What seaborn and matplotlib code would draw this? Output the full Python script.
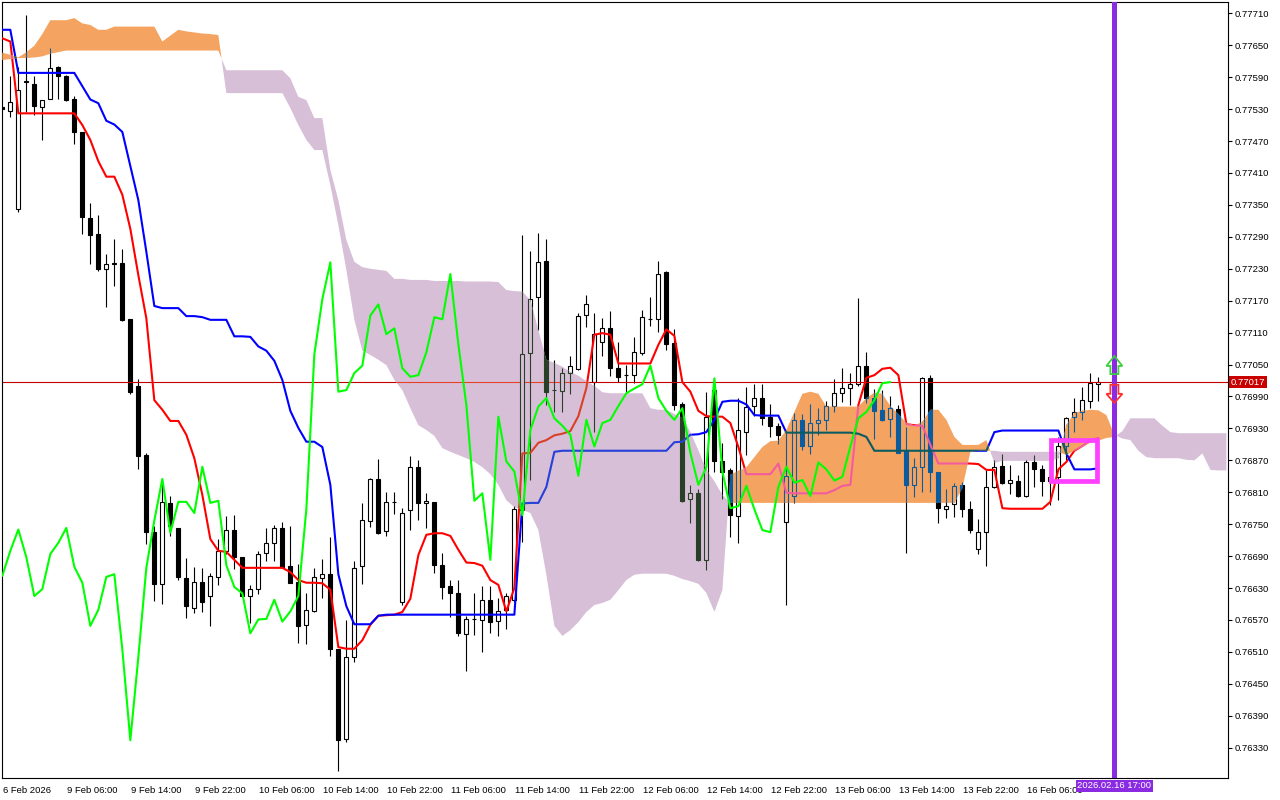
import numpy as np
import matplotlib
matplotlib.use("Agg")
import matplotlib.pyplot as plt
import matplotlib.transforms as mtrans
from matplotlib import colors as mcolors
from matplotlib.path import Path
from matplotlib.patches import Rectangle, Polygon
import seaborn as sns

sns.set_style("white")
plt.rcParams['font.family'] = ['Liberation Sans', 'DejaVu Sans']

# H1 candles, 6 Feb 22:00 .. 16 Feb 15:00
open_ = [0.77534, 0.77526, 0.77342, 0.77581, 0.77578, 0.77534, 0.77548, 0.77610, 0.77592, 0.77549,
         0.77486, 0.77325, 0.77296, 0.77229, 0.77240, 0.77240, 0.77136, 0.77010, 0.76880, 0.76736,
         0.76638, 0.76790, 0.76742, 0.76649, 0.76593, 0.76641, 0.76615, 0.76651, 0.76700, 0.76740,
         0.76689, 0.76615, 0.76628, 0.76695, 0.76715, 0.76743, 0.76671, 0.76642, 0.76561, 0.76587,
         0.76648, 0.76657, 0.76516, 0.76346, 0.76500, 0.76672, 0.76756, 0.76835, 0.76737, 0.76791,
         0.76604, 0.76777, 0.76857, 0.76789, 0.76791, 0.76673, 0.76634, 0.76621, 0.76543, 0.76571,
         0.76570, 0.76608, 0.76569, 0.76588, 0.76608, 0.76777, 0.77072, 0.77176, 0.77245, 0.77003,
         0.77001, 0.77034, 0.77042, 0.77143, 0.77017, 0.77093, 0.77118, 0.77044, 0.77031, 0.77030,
         0.77072, 0.77136, 0.77135, 0.77223, 0.77090, 0.76976, 0.76797, 0.76809, 0.76683, 0.77002,
         0.76869, 0.76851, 0.76766, 0.76924, 0.76973, 0.76987, 0.76951, 0.76935, 0.76754, 0.76803,
         0.76946, 0.76897, 0.76940, 0.76946, 0.76972, 0.76996, 0.77005, 0.77013, 0.77048, 0.76987,
         0.76965, 0.76947, 0.76966, 0.76888, 0.76824, 0.76857, 0.77024, 0.76849, 0.76778, 0.76788,
         0.76824, 0.76778, 0.76703, 0.76735, 0.76820, 0.76859, 0.76827, 0.76832, 0.76803, 0.76866,
         0.76853, 0.76832, 0.76839, 0.76896, 0.76952, 0.76960, 0.76982, 0.77013]
high = [0.77536, 0.77592, 0.77609, 0.77707, 0.77592, 0.77547, 0.77644, 0.77611, 0.77594, 0.77555,
        0.77486, 0.77354, 0.77331, 0.77258, 0.77286, 0.77267, 0.77136, 0.77022, 0.76884, 0.76746,
        0.76834, 0.76803, 0.76743, 0.76687, 0.76670, 0.76668, 0.76659, 0.76722, 0.76765, 0.76767,
        0.76689, 0.76636, 0.76700, 0.76743, 0.76748, 0.76754, 0.76746, 0.76675, 0.76621, 0.76668,
        0.76685, 0.76726, 0.76516, 0.76570, 0.76681, 0.76790, 0.76837, 0.76873, 0.76811, 0.76811,
        0.76780, 0.76878, 0.76871, 0.76809, 0.76791, 0.76695, 0.76645, 0.76646, 0.76578, 0.76620,
        0.76634, 0.76634, 0.76611, 0.76621, 0.76784, 0.77293, 0.77263, 0.77297, 0.77286, 0.77059,
        0.77044, 0.77066, 0.77146, 0.77181, 0.77146, 0.77137, 0.77151, 0.77093, 0.77049, 0.77101,
        0.77152, 0.77177, 0.77245, 0.77226, 0.77116, 0.76980, 0.76824, 0.76816, 0.76998, 0.77024,
        0.76902, 0.76856, 0.76987, 0.77007, 0.77013, 0.77013, 0.76976, 0.76940, 0.76921, 0.76959,
        0.76957, 0.76976, 0.76968, 0.76982, 0.77022, 0.77043, 0.77035, 0.77175, 0.77074, 0.77004,
        0.77002, 0.76990, 0.76974, 0.76933, 0.76874, 0.77027, 0.77030, 0.76849, 0.76816, 0.76827,
        0.76829, 0.76794, 0.76759, 0.76851, 0.76871, 0.76882, 0.76861, 0.76842, 0.76871, 0.76880,
        0.76861, 0.76848, 0.76914, 0.76952, 0.76987, 0.77008, 0.77034, 0.77027]
low = [0.77528, 0.77516, 0.77337, 0.77525, 0.77519, 0.77472, 0.77548, 0.77549, 0.77545, 0.77464,
       0.77295, 0.77239, 0.77226, 0.77158, 0.77197, 0.77131, 0.76995, 0.76854, 0.76713, 0.76606,
       0.76600, 0.76727, 0.76645, 0.76574, 0.76583, 0.76585, 0.76559, 0.76635, 0.76694, 0.76666,
       0.76613, 0.76564, 0.76618, 0.76681, 0.76680, 0.76668, 0.76639, 0.76526, 0.76524, 0.76585,
       0.76611, 0.76503, 0.76286, 0.76340, 0.76492, 0.76637, 0.76745, 0.76732, 0.76727, 0.76770,
       0.76599, 0.76740, 0.76758, 0.76742, 0.76659, 0.76609, 0.76576, 0.76539, 0.76475, 0.76542,
       0.76510, 0.76546, 0.76540, 0.76554, 0.76604, 0.76717, 0.76833, 0.77115, 0.76974, 0.76960,
       0.76961, 0.76995, 0.77040, 0.77121, 0.76923, 0.77066, 0.77028, 0.77018, 0.76999, 0.77015,
       0.77068, 0.77122, 0.77112, 0.77077, 0.76965, 0.76792, 0.76752, 0.76680, 0.76663, 0.76849,
       0.76797, 0.76725, 0.76714, 0.76880, 0.76953, 0.76936, 0.76914, 0.76900, 0.76598, 0.76790,
       0.76889, 0.76882, 0.76918, 0.76927, 0.76961, 0.76980, 0.76974, 0.77010, 0.76977, 0.76911,
       0.76944, 0.76914, 0.76883, 0.76695, 0.76802, 0.76811, 0.76811, 0.76753, 0.76761, 0.76764,
       0.76764, 0.76734, 0.76694, 0.76672, 0.76818, 0.76826, 0.76807, 0.76801, 0.76801, 0.76820,
       0.76803, 0.76786, 0.76795, 0.76871, 0.76924, 0.76946, 0.76968, 0.76982]
close = [0.77530, 0.77543, 0.77566, 0.77582, 0.77536, 0.77547, 0.77608, 0.77593, 0.77547, 0.77486,
         0.77328, 0.77293, 0.77229, 0.77238, 0.77239, 0.77134, 0.76999, 0.76879, 0.76736, 0.76638,
         0.76792, 0.76746, 0.76650, 0.76596, 0.76641, 0.76604, 0.76653, 0.76700, 0.76740, 0.76688,
         0.76615, 0.76628, 0.76694, 0.76715, 0.76743, 0.76670, 0.76640, 0.76559, 0.76589, 0.76651,
         0.76656, 0.76515, 0.76344, 0.76500, 0.76668, 0.76757, 0.76835, 0.76734, 0.76792, 0.76792,
         0.76771, 0.76858, 0.76790, 0.76794, 0.76673, 0.76632, 0.76620, 0.76545, 0.76571, 0.76572,
         0.76608, 0.76567, 0.76586, 0.76615, 0.76778, 0.77069, 0.77173, 0.77242, 0.76999, 0.77002,
         0.77034, 0.77048, 0.77142, 0.77163, 0.77107, 0.77118, 0.77043, 0.77027, 0.77030, 0.77073,
         0.77139, 0.77135, 0.77220, 0.77088, 0.76974, 0.76794, 0.76808, 0.76683, 0.76952, 0.76868,
         0.76849, 0.76767, 0.76927, 0.76971, 0.76987, 0.76949, 0.76935, 0.76918, 0.76841, 0.76946,
         0.76896, 0.76940, 0.76946, 0.76972, 0.76996, 0.77005, 0.77013, 0.77048, 0.76987, 0.76963,
         0.76946, 0.76968, 0.76884, 0.76824, 0.76857, 0.77024, 0.76849, 0.76780, 0.76784, 0.76822,
         0.76778, 0.76739, 0.76735, 0.76820, 0.76858, 0.76828, 0.76833, 0.76803, 0.76866, 0.76853,
         0.76832, 0.76839, 0.76896, 0.76949, 0.76961, 0.76983, 0.77015, 0.77017]

# Ichimoku lines
tenkan = [0.77663, 0.77657, 0.77522, 0.77522, 0.77522, 0.77522, 0.77522, 0.77522, 0.77522, 0.77522,
          0.77500, 0.77472, 0.77432, 0.77403, 0.77403, 0.77369, 0.77305, 0.77218, 0.77137, 0.76983,
          0.76965, 0.76944, 0.76944, 0.76918, 0.76874, 0.76805, 0.76722, 0.76700, 0.76698, 0.76683,
          0.76668, 0.76668, 0.76668, 0.76668, 0.76668, 0.76668, 0.76660, 0.76645, 0.76640, 0.76640,
          0.76639, 0.76627, 0.76519, 0.76516, 0.76516, 0.76532, 0.76561, 0.76578, 0.76579, 0.76580,
          0.76585, 0.76610, 0.76692, 0.76730, 0.76733, 0.76733, 0.76728, 0.76702, 0.76678, 0.76677,
          0.76672, 0.76645, 0.76636, 0.76586, 0.76630, 0.76883, 0.76884, 0.76903, 0.76908, 0.76917,
          0.76920, 0.76925, 0.76953, 0.77006, 0.77106, 0.77109, 0.77106, 0.77052, 0.77052, 0.77052,
          0.77052, 0.77052, 0.77087, 0.77116, 0.77104, 0.77017, 0.76999, 0.76963, 0.76953, 0.76952,
          0.76952, 0.76940, 0.76895, 0.76844, 0.76844, 0.76844, 0.76844, 0.76864, 0.76809, 0.76808,
          0.76808, 0.76808, 0.76808, 0.76808, 0.76814, 0.76822, 0.76824, 0.76974, 0.77025, 0.77030,
          0.77042, 0.77044, 0.77030, 0.76938, 0.76936, 0.76935, 0.76899, 0.76864, 0.76864, 0.76864,
          0.76864, 0.76864, 0.76863, 0.76852, 0.76852, 0.76780, 0.76779, 0.76779, 0.76779, 0.76779,
          0.76779, 0.76792, 0.76853, 0.76867, 0.76888, 0.76897, 0.76908, 0.76912]
kijun = [0.77679, 0.77679, 0.77598, 0.77598, 0.77598, 0.77598, 0.77598, 0.77598, 0.77598, 0.77598,
         0.77573, 0.77548, 0.77541, 0.77508, 0.77501, 0.77487, 0.77423, 0.77359, 0.77262, 0.77160,
         0.77156, 0.77156, 0.77156, 0.77141, 0.77141, 0.77139, 0.77134, 0.77134, 0.77134, 0.77103,
         0.77103, 0.77102, 0.77084, 0.77076, 0.77057, 0.77021, 0.76963, 0.76931, 0.76905, 0.76905,
         0.76895, 0.76824, 0.76656, 0.76596, 0.76562, 0.76562, 0.76562, 0.76578, 0.76580, 0.76580,
         0.76580, 0.76580, 0.76580, 0.76580, 0.76580, 0.76580, 0.76580, 0.76580, 0.76580, 0.76580,
         0.76580, 0.76580, 0.76580, 0.76580, 0.76580, 0.76789, 0.76790, 0.76790, 0.76820, 0.76886,
         0.76888, 0.76888, 0.76888, 0.76888, 0.76888, 0.76888, 0.76888, 0.76888, 0.76888, 0.76888,
         0.76888, 0.76888, 0.76888, 0.76888, 0.76904, 0.76905, 0.76918, 0.76919, 0.76923, 0.76946,
         0.76980, 0.76982, 0.76982, 0.76975, 0.76955, 0.76954, 0.76954, 0.76954, 0.76922, 0.76922,
         0.76922, 0.76922, 0.76922, 0.76922, 0.76922, 0.76922, 0.76922, 0.76920, 0.76914, 0.76888,
         0.76888, 0.76888, 0.76888, 0.76888, 0.76888, 0.76888, 0.76888, 0.76888, 0.76888, 0.76888,
         0.76888, 0.76888, 0.76888, 0.76888, 0.76923, 0.76926, 0.76926, 0.76926, 0.76926, 0.76926,
         0.76926, 0.76926, 0.76926, 0.76883, 0.76853, 0.76853, 0.76853, 0.76855]
# cloud spans, 16 bars projected past the last candle
span_a = [0.77636, 0.77632, 0.77627, 0.77637, 0.77649, 0.77671, 0.77697, 0.77697, 0.77697, 0.77701,
          0.77691, 0.77688, 0.77679, 0.77679, 0.77685, 0.77685, 0.77685, 0.77685, 0.77685, 0.77685,
          0.77657, 0.77668, 0.77679, 0.77676, 0.77674, 0.77672, 0.77671, 0.77669, 0.77560, 0.77560,
          0.77560, 0.77560, 0.77560, 0.77560, 0.77560, 0.77560, 0.77532, 0.77500, 0.77472, 0.77453,
          0.77453, 0.77387, 0.77312, 0.77228, 0.77134, 0.77076, 0.77068, 0.77059, 0.77049, 0.77021,
          0.77002, 0.76968, 0.76936, 0.76927, 0.76916, 0.76893, 0.76886, 0.76880, 0.76874, 0.76867,
          0.76857, 0.76844, 0.76824, 0.76795, 0.76782, 0.76777, 0.76771, 0.76739, 0.76655, 0.76559,
          0.76540, 0.76551, 0.76566, 0.76585, 0.76598, 0.76602, 0.76608, 0.76626, 0.76645, 0.76655,
          0.76657, 0.76657, 0.76657, 0.76657, 0.76653, 0.76647, 0.76643, 0.76638, 0.76621, 0.76585,
          0.76626, 0.76843, 0.76850, 0.76857, 0.76876, 0.76895, 0.76906, 0.76907, 0.76927, 0.76961,
          0.76995, 0.76999, 0.76995, 0.76971, 0.76971, 0.76971, 0.76971, 0.76971, 0.76987, 0.76997,
          0.76995, 0.76972, 0.76957, 0.76940, 0.76936, 0.76942, 0.76965, 0.76965, 0.76946, 0.76914,
          0.76899, 0.76899, 0.76899, 0.76908, 0.76865, 0.76869, 0.76869, 0.76869, 0.76869, 0.76869,
          0.76869, 0.76869, 0.76874, 0.76936, 0.76959, 0.76963, 0.76965, 0.76964, 0.76955, 0.76918,
          0.76911, 0.76908, 0.76888, 0.76876, 0.76874, 0.76874, 0.76874, 0.76874, 0.76871, 0.76870,
          0.76883, 0.76852, 0.76851, 0.76851]
span_b = [0.77622, 0.77624, 0.77626, 0.77626, 0.77627, 0.77629, 0.77634, 0.77637, 0.77640, 0.77640,
          0.77640, 0.77640, 0.77640, 0.77640, 0.77640, 0.77640, 0.77640, 0.77640, 0.77640, 0.77640,
          0.77640, 0.77640, 0.77640, 0.77640, 0.77640, 0.77640, 0.77640, 0.77640, 0.77603, 0.77603,
          0.77603, 0.77603, 0.77603, 0.77603, 0.77603, 0.77603, 0.77588, 0.77553, 0.77547, 0.77513,
          0.77513, 0.77416, 0.77359, 0.77284, 0.77243, 0.77233, 0.77230, 0.77228, 0.77226, 0.77211,
          0.77211, 0.77209, 0.77209, 0.77209, 0.77207, 0.77207, 0.77207, 0.77207, 0.77206, 0.77206,
          0.77206, 0.77206, 0.77205, 0.77190, 0.77188, 0.77187, 0.77171, 0.77115, 0.77059, 0.77053,
          0.77046, 0.77036, 0.77029, 0.77019, 0.77010, 0.76998, 0.76996, 0.76996, 0.76996, 0.76996,
          0.76996, 0.76968, 0.76965, 0.76965, 0.76957, 0.76950, 0.76923, 0.76889, 0.76852, 0.76831,
          0.76805, 0.76790, 0.76790, 0.76790, 0.76790, 0.76790, 0.76790, 0.76790, 0.76790, 0.76790,
          0.76790, 0.76790, 0.76790, 0.76790, 0.76790, 0.76790, 0.76790, 0.76790, 0.76790, 0.76790,
          0.76790, 0.76790, 0.76790, 0.76790, 0.76790, 0.76790, 0.76790, 0.76790, 0.76790, 0.76790,
          0.76818, 0.76886, 0.76888, 0.76888, 0.76888, 0.76886, 0.76886, 0.76886, 0.76886, 0.76886,
          0.76886, 0.76886, 0.76886, 0.76880, 0.76888, 0.76895, 0.76903, 0.76907, 0.76912, 0.76914,
          0.76925, 0.76949, 0.76949, 0.76949, 0.76949, 0.76935, 0.76923, 0.76921, 0.76921, 0.76921,
          0.76921, 0.76921, 0.76921, 0.76921]
chikou_shift = 26

last_price = 0.77017
signal_bar = 139
signal_time = "2026.02.16 17:00"
buy_arrow = (0.77032, 0.77066)    # tail, tip
sell_arrow = (0.77012, 0.76978)
box_bars = (131.1, 136.8)
box_prices = (0.76831, 0.76908)

tick_bars = [0, 8, 16, 24, 32, 40, 48, 56, 64, 72, 80, 88, 96, 104, 112, 120, 128]
tick_labels = ["6 Feb 2026", "9 Feb 06:00", "9 Feb 14:00", "9 Feb 22:00", "10 Feb 06:00",
               "10 Feb 14:00", "10 Feb 22:00", "11 Feb 06:00", "11 Feb 14:00", "11 Feb 22:00",
               "12 Feb 06:00", "12 Feb 14:00", "12 Feb 22:00", "13 Feb 06:00", "13 Feb 14:00",
               "13 Feb 22:00", "16 Feb 06:00"]
price_ticks = [0.76330, 0.76390, 0.76450, 0.76510, 0.76570, 0.76630, 0.76690, 0.76750,
               0.76810, 0.76870, 0.76930, 0.76990, 0.77050, 0.77110, 0.77170, 0.77230,
               0.77290, 0.77350, 0.77410, 0.77470, 0.77530, 0.77590, 0.77650, 0.77710]

ORANGE = '#f4a460'
THISTLE = '#d8bfd8'
PRICE_COL = '#c00000'


def xor_col(col, cloud):
    # the cloud is painted in xor mode over candles / tenkan / kijun
    a = np.round(np.array(mcolors.to_rgb(col)) * 255).astype(int)
    b = 255 - np.round(np.array(mcolors.to_rgb(cloud)) * 255).astype(int)
    return tuple((a ^ b) / 255.0)


fig = plt.figure(figsize=(12.8, 8), dpi=100)
ax = fig.add_axes([2 / 1280, 22 / 800, 1226 / 1280, 776 / 800])

bars = np.arange(len(close))
o, h, l, c = (np.array(v) for v in (open_, high, low, close))


def draw_candles(up_face, dark, z, clip=None):
    faces = [up_face if cc >= oo else dark for oo, cc in zip(o, c)]
    wick = ax.vlines(bars, l, h, colors=[dark], lw=0.8, zorder=z)
    body = ax.bar(bars, np.maximum(np.abs(c - o), 2e-6), bottom=np.minimum(o, c), width=0.5,
                  color=faces, edgecolor=dark, linewidth=0.8, zorder=z)
    if clip is not None:
        wick.set_clip_path(clip, ax.transData)
        for p in body.patches:
            p.set_clip_path(clip, ax.transData)


def draw_lines(col_t, col_k, col_p, z, clip=None):
    n0 = len(ax.lines)
    ax.axhline(last_price, color=col_p, lw=0.8, zorder=z - 0.5)
    sns.lineplot(x=bars, y=tenkan, ax=ax, color=col_t, linewidth=1.5, zorder=z,
                 sort=False, estimator=None)
    sns.lineplot(x=bars, y=kijun, ax=ax, color=col_k, linewidth=1.5, zorder=z,
                 sort=False, estimator=None)
    if clip is not None:
        for ln in ax.lines[n0:]:
            ln.set_clip_path(clip, ax.transData)


# plain layer
draw_candles('white', 'black', 2)
draw_lines('#ff0000', '#0000ff', PRICE_COL, 3)

# cloud
kc = np.arange(len(span_a))
A = np.array(span_a)
B = np.array(span_b)
up = ax.fill_between(kc, A, B, where=A >= B, interpolate=True, color=ORANGE, lw=0, zorder=4)
dn = ax.fill_between(kc, A, B, where=A < B, interpolate=True, color=THISTLE, lw=0, zorder=4)
clip_up = Path.make_compound_path(*up.get_paths())
clip_dn = Path.make_compound_path(*dn.get_paths())

for cloud, clip in ((ORANGE, clip_up), (THISTLE, clip_dn)):
    draw_candles(cloud, xor_col('black', cloud), 5, clip)
    draw_lines(xor_col('#ff0000', cloud), xor_col('#0000ff', cloud), xor_col(PRICE_COL, cloud), 5.2, clip)

# chikou span
n_ch = len(close) - chikou_shift
sns.lineplot(x=bars[:n_ch], y=close[chikou_shift:], ax=ax, color='#00ff00', linewidth=1.5,
             zorder=6, sort=False, estimator=None)

# signal marker
ax.axvline(signal_bar, color='#8a2be2', lw=3.6, zorder=7)
hw, sw = 1.0, 0.5
t0, t1 = buy_arrow
hb = t1 - (t1 - t0) * 0.55
ax.add_patch(Polygon([(signal_bar, t1), (signal_bar - hw, hb), (signal_bar - sw, hb),
                      (signal_bar - sw, t0), (signal_bar + sw, t0), (signal_bar + sw, hb),
                      (signal_bar + hw, hb)], closed=True, fill=False, ec='#3ccf3c', lw=1.3, zorder=8))
t0, t1 = sell_arrow
hb = t1 - (t1 - t0) * 0.5
ax.add_patch(Polygon([(signal_bar, t1), (signal_bar - hw, hb), (signal_bar - sw, hb),
                      (signal_bar - sw, t0), (signal_bar + sw, t0), (signal_bar + sw, hb),
                      (signal_bar + hw, hb)], closed=True, fill=False, ec='#ff3030', lw=1.3, zorder=8))
ax.add_patch(Rectangle((box_bars[0], box_prices[0]), box_bars[1] - box_bars[0],
                       box_prices[1] - box_prices[0], fill=False, ec='#ff40ff', lw=3.4, zorder=9))

ax.set_xlim(-0.04, 153.2)
ax.set_ylim(0.762731, 0.777312)

ax.set_xticks(tick_bars)
ax.set_xticklabels(tick_labels)
ax.set_yticks(price_ticks)
ax.set_yticklabels([f"{p:.5f}" for p in price_ticks])
ax.yaxis.tick_right()
ax.tick_params(axis='x', direction='out', length=4, width=0.8, pad=1.5, labelsize=6.8, colors='black')
ax.tick_params(axis='y', direction='out', length=3, width=0.8, pad=1.5, labelsize=6.8, colors='black')
shift = mtrans.ScaledTranslation(1 / 100, 0, fig.dpi_scale_trans)
for lbl in ax.get_xticklabels():
    lbl.set_horizontalalignment('left')
    lbl.set_transform(lbl.get_transform() + shift)
for sp in ax.spines.values():
    sp.set_color('black')
    sp.set_linewidth(0.8)
ax.grid(False)

ty = mtrans.blended_transform_factory(ax.transAxes, ax.transData)
ax.text(1.0, last_price, "0.77017", transform=ty + mtrans.ScaledTranslation(3 / 100, 0, fig.dpi_scale_trans),
        ha='left', va='center', color='white', fontsize=6.8, zorder=10, clip_on=False,
        bbox=dict(boxstyle='square,pad=0.2', fc='#c80000', ec='none'))
tx = mtrans.blended_transform_factory(ax.transData, ax.transAxes)
ax.text(signal_bar, -0.0045, signal_time, transform=tx, ha='center', va='top', color='white',
        fontsize=6.8, zorder=10, clip_on=False,
        bbox=dict(boxstyle='square,pad=0.2', fc='#8a2be2', ec='none'))

fig.savefig("out.png", dpi=100)
